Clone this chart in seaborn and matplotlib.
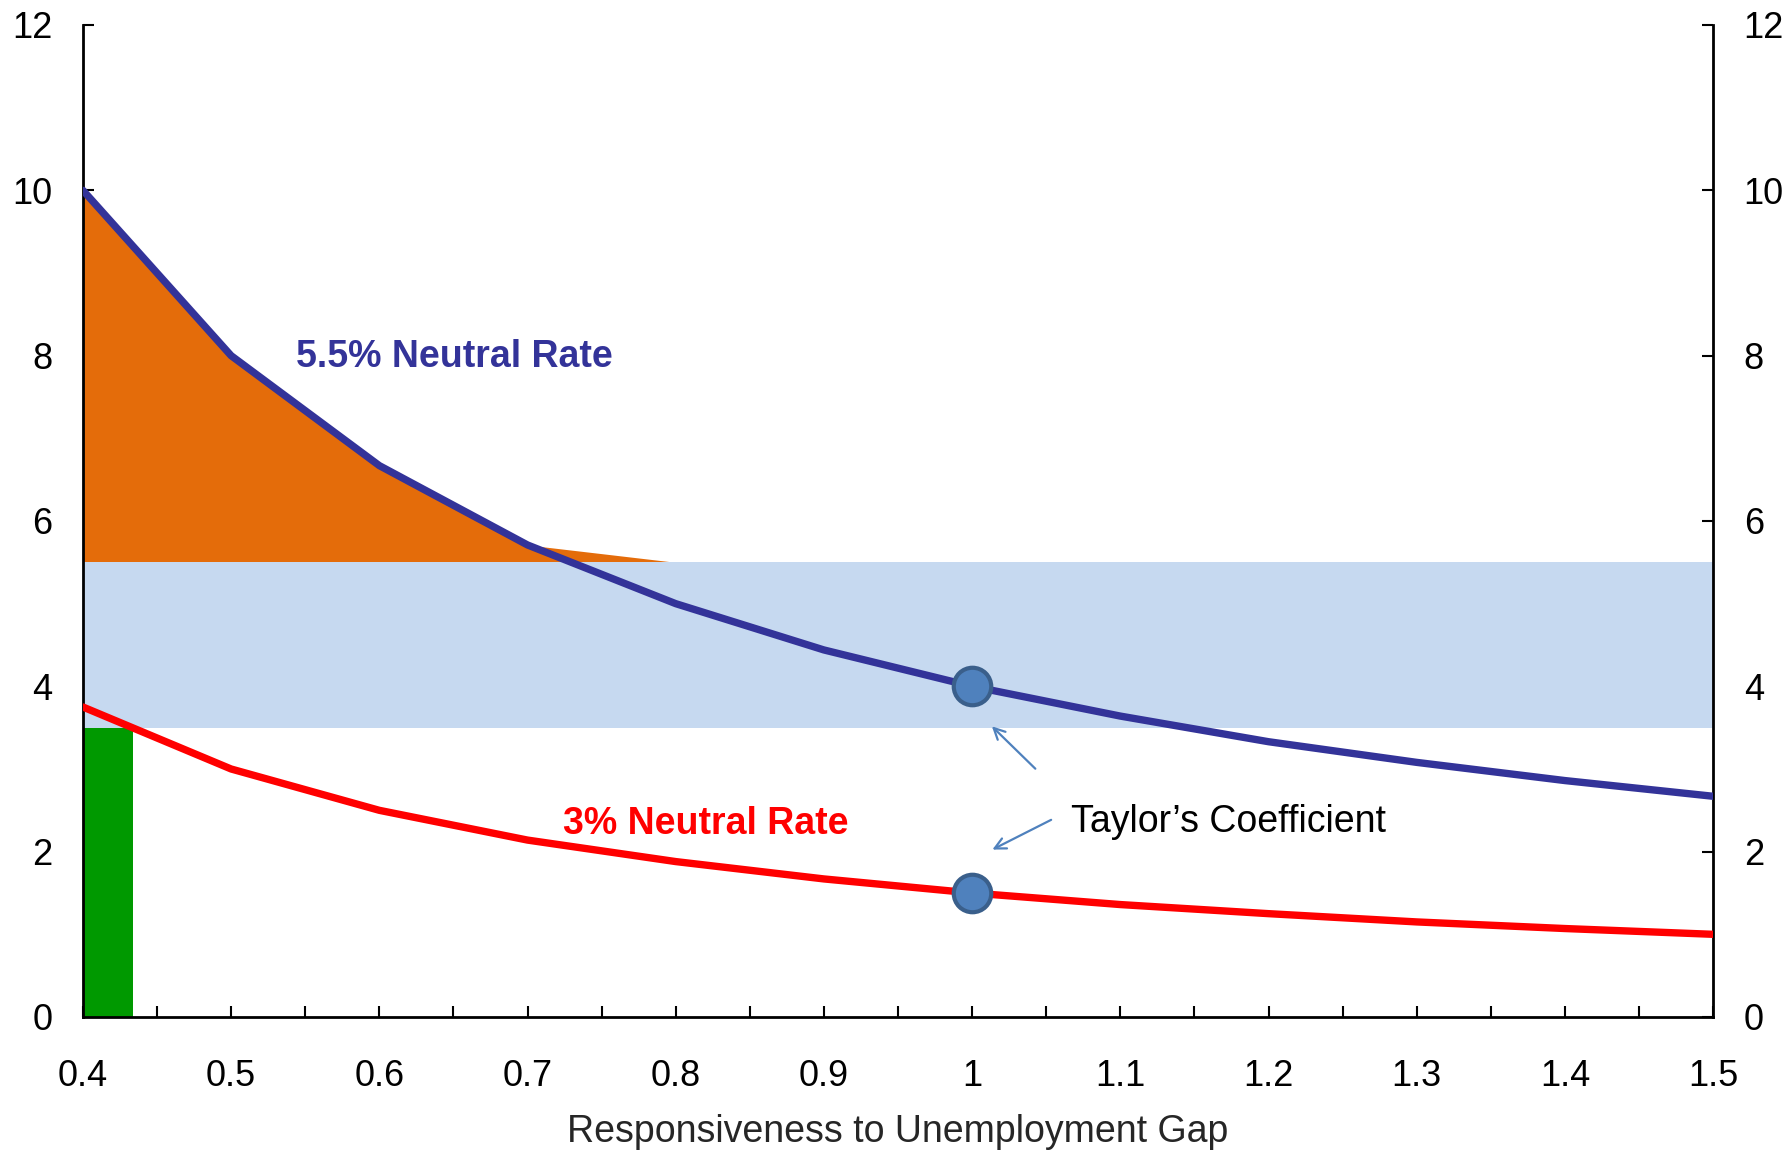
import matplotlib
matplotlib.use("Agg")
import matplotlib.pyplot as plt
from matplotlib.ticker import MultipleLocator
import seaborn as sns
import pandas as pd

# ---- data ----
x_vals = [0.4, 0.5, 0.6, 0.7, 0.8, 0.9, 1.0, 1.1, 1.2, 1.3, 1.4, 1.5]
rate_55 = [10.0, 8.0, 6.67, 5.71, 5.0, 4.44, 4.0, 3.64, 3.33, 3.08, 2.86, 2.67]
rate_3 = [3.75, 3.0, 2.5, 2.14, 1.88, 1.67, 1.5, 1.36, 1.25, 1.15, 1.07, 1.0]
orange_top = [10.0, 8.0, 6.67, 5.71, 5.5, 5.5, 5.5, 5.5, 5.5, 5.5, 5.5, 5.5]
band_low = [3.5] * 12
band_high = [5.5] * 12
green_x = [0.4]
green_h = [3.5]
green_w = 0.034
taylor_x = [1.0, 1.0]
taylor_y = [4.0, 1.5]
x_labels = ["0.4", "0.5", "0.6", "0.7", "0.8", "0.9", "1", "1.1", "1.2", "1.3", "1.4", "1.5"]

sns.set_style("white")
plt.rcParams['font.family'] = ['Liberation Sans', 'DejaVu Sans']

fig = plt.figure(figsize=(17.91, 11.52), dpi=100)
ax = fig.add_axes([0.0463, 0.1172, 0.9102, 0.8611])

df = pd.DataFrame({"x": x_vals, "r55": rate_55, "r3": rate_3})

ax.fill_between(x_vals, band_high, orange_top, color="#E46C0A", lw=0, zorder=1)
ax.fill_between(x_vals, band_low, band_high, color="#C6D9F0", lw=0, zorder=1)
ax.bar(green_x, green_h, width=green_w, align="edge", color="#009900", lw=0, zorder=2)

sns.lineplot(data=df, x="x", y="r55", ax=ax, color="#333399", lw=5.3, zorder=3)
sns.lineplot(data=df, x="x", y="r3", ax=ax, color="#FF0000", lw=5.3, zorder=3)
ax.plot(taylor_x, taylor_y, ls="none", marker="o", ms=27, mfc="#4F81BD",
        mec="#3A5F8B", mew=3, zorder=4)

ax.set_xlim(0.4, 1.5)
ax.set_ylim(0, 12)
ax.xaxis.set_minor_locator(MultipleLocator(0.05))
ax.yaxis.set_major_locator(MultipleLocator(2))
ax.set_xticks(x_vals)
ax.set_xticklabels(x_labels)

for s in ["left", "right", "bottom"]:
    ax.spines[s].set_visible(True)
    ax.spines[s].set_color("black")
    ax.spines[s].set_linewidth(2)
ax.spines["top"].set_visible(False)

ax.tick_params(axis="x", which="both", direction="in", length=8, width=1.5,
               bottom=True, top=False, labelsize=26, pad=30, colors="black")
ax.tick_params(axis="y", which="major", direction="in", length=8, width=1.5,
               left=True, right=True, labelleft=True, labelright=True,
               labelsize=26, pad=22, colors="black")

ax.set_xlabel("Responsiveness to Unemployment Gap", fontsize=27, labelpad=15)
ax.set_ylabel("")

ax.text(0.544, 7.98, "5.5% Neutral Rate", color="#333399", fontsize=27,
        fontweight="bold", va="center", ha="left")
ax.text(0.724, 2.33, "3% Neutral Rate", color="#FF0000", fontsize=27,
        fontweight="bold", va="center", ha="left")
ax.text(1.067, 2.36, "Taylor\u2019s Coefficient", color="black", fontsize=27,
        va="center", ha="left")

arrow_kw = dict(arrowstyle="->,head_length=0.8,head_width=0.4", color="#4F81BD", lw=1.6)
ax.annotate("", xy=(1.012, 3.54), xytext=(1.044, 2.98), arrowprops=arrow_kw)
ax.annotate("", xy=(1.012, 2.01), xytext=(1.055, 2.40), arrowprops=arrow_kw)

fig.savefig("out.png", dpi=100)
